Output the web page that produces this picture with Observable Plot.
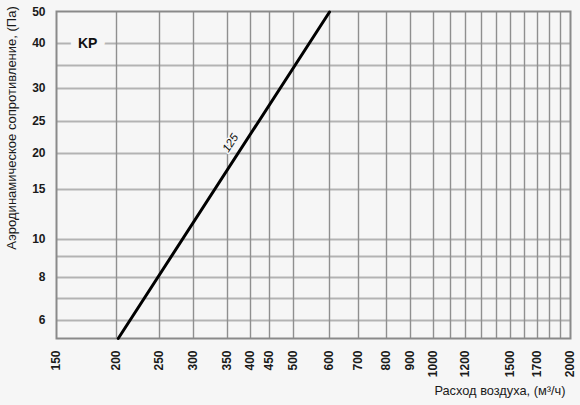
<!DOCTYPE html>
<html>
<head>
<meta charset="utf-8">
<script src="https://cdn.jsdelivr.net/npm/d3@7"></script>
<script src="https://cdn.jsdelivr.net/npm/@observablehq/plot@0.6"></script>
<style>
  html, body { margin: 0; padding: 0; background: #f6f6f6; }
  #chart svg { display: block; }
</style>
</head>
<body>
<div id="chart"></div>
<script>
// ---- data ----
const xTickValues = [150, 200, 250, 300, 350, 400, 450, 500, 600, 700, 800, 900, 1000, 1200, 1500, 1700, 2000];
const xGridValues = [200, 250, 300, 350, 400, 450, 500, 600, 700, 800, 900, 1000, 1100, 1200, 1300, 1400, 1500, 1600, 1700, 1800, 1900];
const yTickValues = [6, 8, 10, 15, 20, 25, 30, 40, 50];
const yGridValues = [6, 7, 8, 9, 10, 15, 20, 25, 30, 35, 40];

const seriesName = "125";
const airflow = [202, 600];      // м³/ч
const pressure = [5, 50];        // Па
const seriesLabelAt = {flow: 378, pressure: 20.7};

const kpLabel = "KP";
const kpAt = {flow: 176, pressure: 40};

const xTitle = "Расход воздуха, (м³/ч)";
const yTitle = "Аэродинамическое сопротивление, (Па)";

// table for the line
const lineData = airflow.map((f, i) => ({flow: f, pressure: pressure[i]}));

const font = "'Liberation Sans', Arial, sans-serif";

const chart = Plot.plot({
  width: 580,
  height: 405,
  marginLeft: 56,
  marginRight: 10,
  marginTop: 11,
  marginBottom: 67,
  style: {background: "#f6f6f6", fontFamily: font, fontSize: "12px", color: "#1a1a1a"},
  // the printed grid is hand-drawn (approximately logarithmic); calibrate the scales to it
  x: {
    type: "linear",
    domain: [150, 200, 250, 300, 350, 400, 450, 500, 600, 700, 800, 900, 1000, 1100, 1200, 1300, 1400, 1500, 1600, 1700, 1800, 1900, 2000],
    range:  [56, 116, 159, 193, 227, 250, 269, 293, 329, 358, 386, 410, 433, 450, 465, 481, 496, 510, 524, 537, 549, 560, 569.5]
  },
  y: {
    type: "linear",
    domain: [5, 6, 7, 8, 9, 10, 15, 20, 25, 30, 35, 40, 50],
    range:  [338, 320, 298, 277, 256, 239, 189, 153, 121, 88, 65, 43, 11.5]
  },
  marks: [
    Plot.ruleY(yGridValues, {stroke: "#b3b3b3", strokeWidth: 2}),
    Plot.ruleX(xGridValues, {stroke: "#8f8f8f", strokeWidth: 1.4}),
    Plot.frame({stroke: "#8a8a8a", strokeWidth: 2}),
    Plot.axisX({
      ticks: xTickValues, tickSize: 0, tickPadding: 12, tickRotate: -90,
      tickFormat: d => String(d),
      label: null, fontWeight: "bold", fill: "#1a1a1a"
    }),
    Plot.axisY({
      ticks: yTickValues, tickSize: 0, tickPadding: 11,
      tickFormat: d => String(d),
      label: null, fontWeight: "bold", fill: "#1a1a1a"
    }),
    Plot.line(lineData, {x: "flow", y: "pressure", stroke: "#000", strokeWidth: 3}),
    Plot.text([seriesName], {
      x: () => seriesLabelAt.flow, y: () => seriesLabelAt.pressure,
      text: d => d, rotate: -57, dx: -10, dy: -6,
      fontSize: 11.5, fontStyle: "italic", fill: "#111",
      stroke: "#f6f6f6", strokeWidth: 3
    }),
    Plot.text([kpLabel], {
      x: () => kpAt.flow, y: () => kpAt.pressure,
      text: d => d, fontSize: 14, fontWeight: "bold", fill: "#111",
      stroke: "#f6f6f6", strokeWidth: 16, strokeLinejoin: "round"
    }),
    Plot.text([yTitle], {
      frameAnchor: "left", text: d => d, rotate: -90,
      dx: -45, dy: -47, textAnchor: "middle", fontSize: 13, fill: "#1a1a1a"
    }),
    Plot.text([xTitle], {
      frameAnchor: "bottom-right", text: d => d, textAnchor: "end",
      dx: -5, dy: 56, fontSize: 12.8, fill: "#1a1a1a"
    })
  ]
});

document.getElementById("chart").appendChild(chart);
</script>
</body>
</html>
